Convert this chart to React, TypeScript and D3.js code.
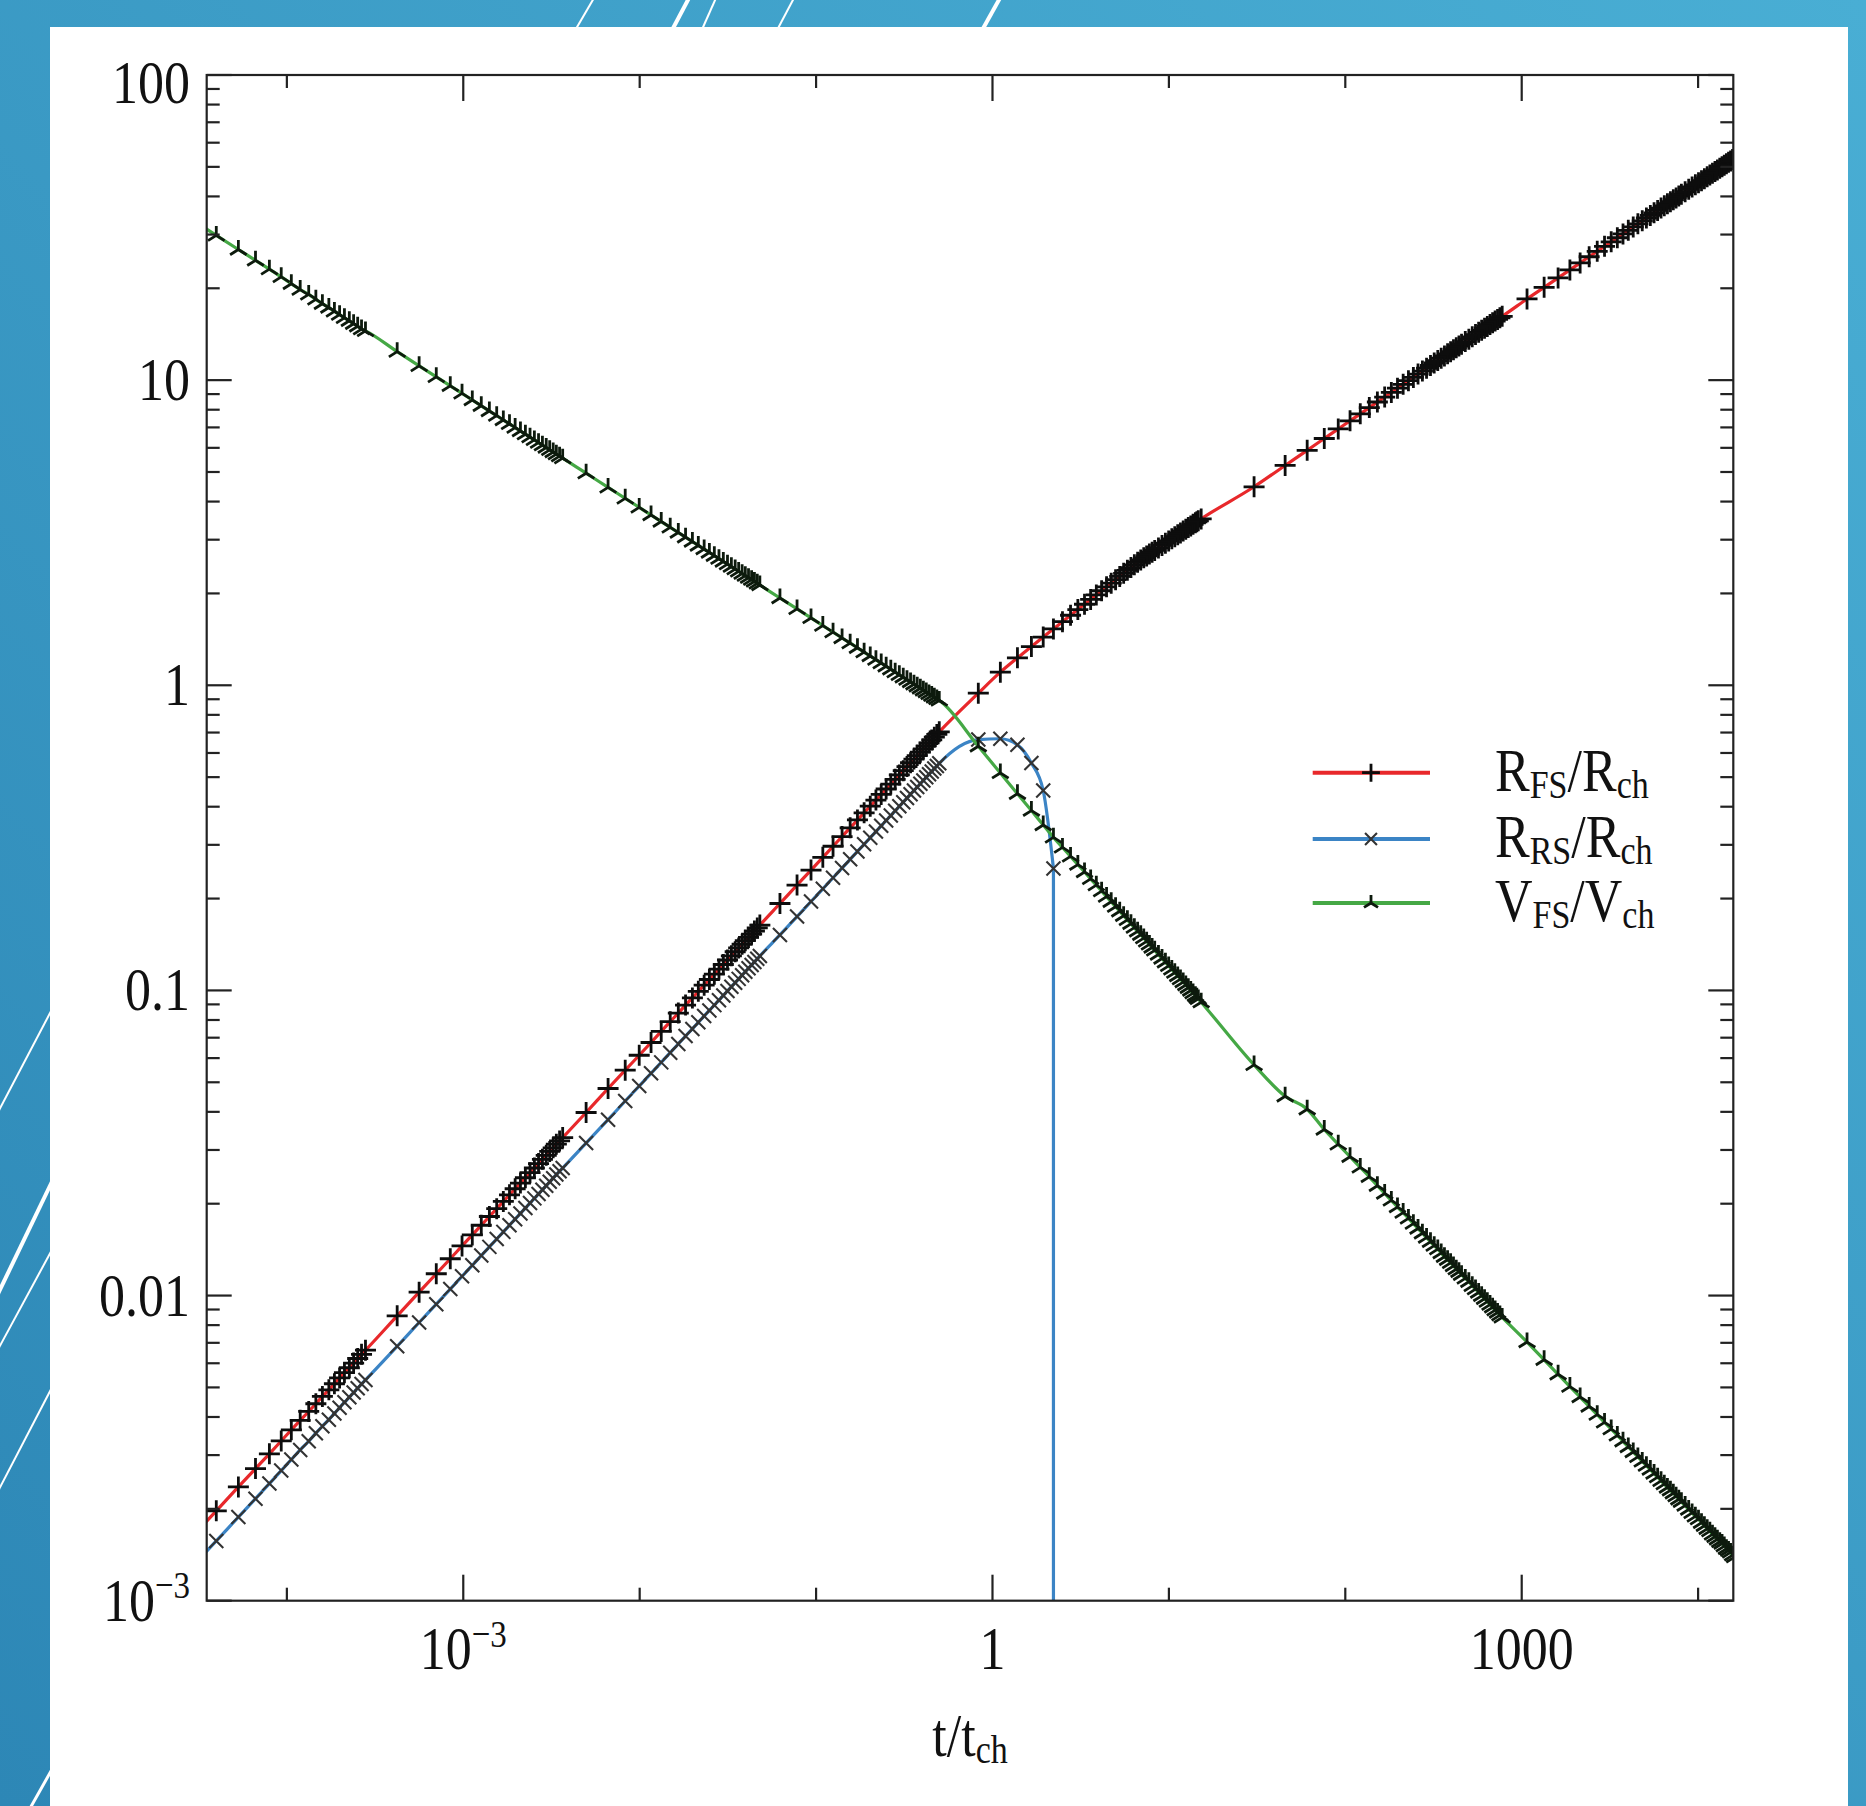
import React from "react";
import * as d3 from "d3";

// output times t/t_ch (shared by the three curves)
const timeSteps = [
  2.65e-5, 3.98e-5, 5.31e-5, 6.64e-5, 7.96e-5, 9.29e-5, 1.06e-4, 1.19e-4, 1.33e-4, 1.46e-4, 1.59e-4, 1.73e-4, 1.86e-4, 1.99e-4, 2.12e-4, 2.26e-4, 2.39e-4, 2.52e-4, 2.65e-4, 2.79e-4,
  4.22e-4, 5.62e-4, 7.03e-4, 8.44e-4, 9.84e-4, 1.125e-3, 1.265e-3, 1.406e-3, 1.547e-3, 1.687e-3, 1.828e-3, 1.968e-3, 2.109e-3, 2.25e-3, 2.39e-3, 2.53e-3, 2.671e-3, 2.81e-3, 2.953e-3, 3.09e-3, 3.234e-3, 3.37e-3, 3.515e-3, 3.66e-3,
  4.97e-3, 6.62e-3, 8.28e-3, 9.94e-3, 0.0116, 0.01325, 0.0149, 0.01656, 0.0182, 0.0199, 0.0215, 0.0232, 0.02484, 0.0265, 0.02815, 0.0298, 0.03146, 0.0331, 0.03478, 0.0364, 0.03809, 0.0397, 0.0414, 0.0431, 0.04471, 0.0464, 0.048,
  0.0624, 0.078, 0.0936, 0.1092, 0.1248, 0.1404, 0.156, 0.1716, 0.1872, 0.2028, 0.2184, 0.234, 0.2496, 0.2652, 0.2808, 0.2964, 0.312, 0.3276, 0.3432, 0.3588, 0.3744, 0.39, 0.4056, 0.4212, 0.4368, 0.4524, 0.468, 0.4836, 0.4992,
  0.831, 1.108, 1.385, 1.662, 1.939, 2.216, 2.493, 2.77, 3.047, 3.324, 3.601, 3.878, 4.155, 4.432, 4.709, 4.986, 5.263, 5.54, 5.817, 6.094, 6.371, 6.648, 6.925, 7.202, 7.479, 7.756, 8.033, 8.31,
  8.726, 9.141, 9.557, 9.972, 10.39, 10.8, 11.22, 11.63, 12.05, 12.47, 12.88, 13.3, 13.71, 14.13, 14.4, 14.68, 15.24,
  30.4, 45.6, 60.8, 76, 91.2, 106.4, 121.6, 136.8, 152, 167.2, 182.4, 197.6, 212.8, 228, 243.2, 258.4, 273.6, 288.8, 304, 319.2, 334.4, 349.6, 364.8, 380, 395.2, 410.4, 425.6, 440.8, 456,
  478.8, 501.6, 524.4, 547.2, 570, 592.8, 615.6, 638.4, 661.2, 684, 706.8, 729.6, 752.4, 775.2,
  1072, 1340, 1608, 1876, 2144, 2412, 2680, 2948, 3216, 3484, 3752, 4020, 4288, 4556, 4824, 5092, 5360, 5628, 5896, 6164, 6432, 6700, 6968, 7236, 7504, 7772, 8040,
  8442, 8844, 9246, 9648, 10050, 10452, 10854, 11256, 11658, 12060, 12462, 12864, 13266, 13668, 14070, 14472, 14874, 15276, 15678, 16080,
];

// forward shock radius R_FS/R_ch
const rFs = [
  0.00153, 0.00197, 0.00236, 0.00271, 0.00303, 0.00334, 0.00363, 0.0039, 0.00417, 0.00442, 0.00467, 0.00491, 0.00514, 0.00537, 0.00559, 0.0058, 0.00601, 0.00622, 0.00642, 0.00662,
  0.00858, 0.01026, 0.01179, 0.0132, 0.01454, 0.0158, 0.017, 0.01816, 0.01927, 0.02034, 0.02138, 0.02239, 0.02337, 0.02433, 0.02527, 0.02618, 0.02708, 0.02795, 0.02882, 0.02967, 0.0305, 0.03133, 0.03213, 0.03293,
  0.0398, 0.0477, 0.0548, 0.0613, 0.0675, 0.0734, 0.079, 0.0843, 0.0895, 0.0945, 0.0993, 0.104, 0.1086, 0.113, 0.1174, 0.1216, 0.1258, 0.1298, 0.1339, 0.1378, 0.1417, 0.1455, 0.1492, 0.1529, 0.1566, 0.1602, 0.1637,
  0.1927, 0.2215, 0.248, 0.273, 0.2968, 0.3194, 0.341, 0.3619, 0.382, 0.4016, 0.4205, 0.439, 0.4571, 0.4746, 0.4917, 0.5086, 0.5251, 0.5413, 0.5573, 0.5729, 0.5884, 0.6035, 0.6185, 0.6332, 0.6477, 0.662, 0.6762, 0.69, 0.7037,
  0.942, 1.104, 1.23, 1.339, 1.439, 1.53, 1.616, 1.696, 1.771, 1.843, 1.912, 1.978, 2.041, 2.102, 2.161, 2.218, 2.274, 2.327, 2.38, 2.431, 2.481, 2.53, 2.576, 2.616, 2.655, 2.693, 2.731, 2.767,
  2.82, 2.872, 2.923, 2.972, 3.02, 3.067, 3.112, 3.158, 3.201, 3.245, 3.286, 3.327, 3.368, 3.407, 3.433, 3.459, 3.51,
  4.472, 5.253, 5.888, 6.437, 6.918, 7.355, 7.756, 8.128, 8.478, 8.8, 9.113, 9.41, 9.689, 9.959, 10.21, 10.47, 10.71, 10.94, 11.17, 11.38, 11.59, 11.8, 12.0, 12.2, 12.4, 12.58, 12.76, 12.94, 13.12,
  13.38, 13.62, 13.87, 14.1, 14.34, 14.56, 14.78, 14.99, 15.21, 15.41, 15.62, 15.81, 16.01, 16.19,
  18.46, 20.14, 21.63, 22.98, 24.22, 25.37, 26.43, 27.44, 28.39, 29.29, 30.15, 30.98, 31.78, 32.54, 33.28, 33.99, 34.67, 35.35, 36.0, 36.64, 37.25, 37.86, 38.43, 39.02, 39.56, 40.12, 40.65,
  41.44, 42.19, 42.95, 43.65, 44.38, 45.05, 45.74, 46.37, 47.03, 47.64, 48.28, 48.87, 49.48, 50.05, 50.61, 51.18, 51.72, 52.28, 52.81, 53.33,
];

// reverse shock radius R_RS/R_ch (stops when it reaches the centre)
const rRs = [
  0.00122, 0.00157, 0.00188, 0.00216, 0.00242, 0.00267, 0.0029, 0.00312, 0.00333, 0.00354, 0.00373, 0.00392, 0.00411, 0.00429, 0.00447, 0.00464, 0.00481, 0.00497, 0.00513, 0.00529,
  0.00682, 0.00816, 0.00937, 0.0105, 0.01156, 0.01256, 0.01352, 0.01444, 0.01532, 0.01617, 0.017, 0.0178, 0.01858, 0.01935, 0.02009, 0.02082, 0.02153, 0.02223, 0.02291, 0.02359, 0.02425, 0.02491, 0.02555, 0.02618,
  0.0316, 0.0377, 0.0434, 0.0486, 0.0535, 0.0581, 0.0625, 0.0668, 0.0709, 0.0748, 0.0786, 0.0824, 0.086, 0.0895, 0.0929, 0.0963, 0.0996, 0.1028, 0.106, 0.1091, 0.1122, 0.1152, 0.1182, 0.1211, 0.124, 0.1269, 0.1297,
  0.152, 0.1746, 0.1956, 0.2153, 0.234, 0.2518, 0.2689, 0.2854, 0.3012, 0.3166, 0.3316, 0.3462, 0.3604, 0.3742, 0.3878, 0.4011, 0.414, 0.4268, 0.4395, 0.4518, 0.464, 0.4759, 0.4877, 0.4993, 0.5107, 0.522, 0.5332, 0.5441, 0.5549,
  0.664, 0.668, 0.638, 0.556, 0.452, 0.251,
];

// forward shock velocity V_FS/V_ch
const vFs = [
  34.7, 29.8, 26.8, 24.7, 23.1, 21.8, 20.7, 19.8, 19.1, 18.4, 17.8, 17.3, 16.8, 16.39, 16.0, 15.65, 15.3, 15.01, 14.7, 14.5,
  12.4, 11.14, 10.25, 9.58, 9.05, 8.61, 8.24, 7.92, 7.65, 7.4, 7.19, 6.99, 6.813, 6.65, 6.503, 6.37, 6.24, 6.12, 6.012, 5.91, 5.811, 5.72, 5.635, 5.55,
  4.955, 4.452, 4.098, 3.828, 3.615, 3.44, 3.293, 3.166, 3.056, 2.958, 2.872, 2.795, 2.723, 2.658, 2.599, 2.544, 2.494, 2.447, 2.403, 2.362, 2.322, 2.286, 2.252, 2.219, 2.189, 2.158, 2.131,
  1.932, 1.779, 1.662, 1.569, 1.493, 1.429, 1.374, 1.327, 1.284, 1.247, 1.213, 1.182, 1.154, 1.128, 1.104, 1.082, 1.062, 1.043, 1.025, 1.008, 0.9925, 0.9776, 0.9633, 0.9501, 0.9368, 0.9251, 0.9132, 0.9022, 0.8918,
  0.631, 0.516, 0.441, 0.3885, 0.3485, 0.3174, 0.2942, 0.2749, 0.2585, 0.2443, 0.232, 0.2213, 0.2115, 0.203, 0.1952, 0.1881, 0.1817, 0.1757, 0.1703, 0.1653, 0.1606, 0.1562, 0.1522, 0.1484, 0.1448, 0.1415, 0.1382, 0.1353,
  0.1311, 0.1272, 0.1237, 0.1203, 0.1172, 0.1143, 0.1115, 0.1089, 0.1065, 0.1042, 0.102, 0.0999, 0.098, 0.0961, 0.0949, 0.0938, 0.0915,
  0.057, 0.045, 0.0408, 0.035, 0.0313, 0.0285, 0.0263, 0.0245, 0.0229, 0.0216, 0.0205, 0.0195, 0.0187, 0.0179, 0.0172, 0.01658, 0.016, 0.01549, 0.015, 0.01457, 0.0142, 0.01378, 0.0134, 0.0131, 0.0128, 0.0125, 0.0122, 0.01197, 0.0117,
  0.01138, 0.0111, 0.01076, 0.0105, 0.01023, 0.00998, 0.00976, 0.00955, 0.00934, 0.00915, 0.00896, 0.0088, 0.00863, 0.00848,
  0.00704, 0.00616, 0.00552, 0.00503, 0.00465, 0.00433, 0.00407, 0.00384, 0.00365, 0.00348, 0.00333, 0.00319, 0.00307, 0.00296, 0.00286, 0.00277, 0.00269, 0.00261, 0.00254, 0.00247, 0.00241, 0.00235, 0.0023, 0.00225, 0.0022, 0.00215, 0.00211,
  0.00205, 0.00199, 0.00194, 0.00189, 0.00185, 0.0018, 0.00176, 0.00172, 0.00169, 0.00165, 0.00162, 0.00159, 0.00156, 0.00154, 0.00151, 0.00148, 0.00146, 0.00144, 0.00141, 0.00139,
];

const xMajorTicks = [1e-3, 1, 1000];
const xMinorTicks = [1e-4, 1e-2, 0.1, 10, 100, 1e4];
const xTickLabels = [["10", "−3"], ["1", ""], ["1000", ""]];
const yTickLabels = [["10", "−3"], ["0.01", ""], ["0.1", ""], ["1", ""], ["10", ""], ["100", ""]];

const W = 1866;
const H = 1806;
const left = 206.7, right = 1733.3, top = 75, bottom = 1600.7;
const FONT = "'Liberation Serif', 'Times New Roman', serif";
const STRETCH = 1.18;

const x = d3.scaleLog().domain([3.512e-5, 15830]).range([left, right]);
const y = d3.scaleLog().domain([1e-3, 100]).range([bottom, top]);

const markers: Record<string, (r: number) => string> = {
  plus: (r) => `M${-r},0H${r}M0,${-r}V${r}`,
  times: (r) => `M${-r},${-r}L${r},${r}M${-r},${r}L${r},${-r}`,
  tri: (r) => `M0,0V${-r}M0,0L${-r * 0.87},${r * 0.55}M0,0L${r * 0.87},${r * 0.55}`,
};

const series = [
  { key: "rfs", values: rFs, color: "#e8282b", marker: "plus", size: 10.5, mStroke: "#0d0d0d", mWidth: 2.8, label: ["R", "FS", "/R", "ch"] },
  { key: "rrs", values: rRs, color: "#3b84c5", marker: "times", size: 7, mStroke: "#333", mWidth: 2.1, label: ["R", "RS", "/R", "ch"] },
  { key: "vfs", values: vFs, color: "#45a845", marker: "tri", size: 9.5, mStroke: "#0d1a0d", mWidth: 2.8, label: ["V", "FS", "/V", "ch"] },
];

const lineGen = d3
  .line<[number, number]>()
  .x((d) => x(d[0]))
  .y((d) => y(d[1]))
  .curve(d3.curveMonotoneX);

function Label({ tx, ty, anchor, parts, size = 52 }: { tx: number; ty: number; anchor: string; parts: string[]; size?: number }) {
  return (
    <text transform={`translate(${tx},${ty}) scale(1,${STRETCH})`} textAnchor={anchor} fontFamily={FONT} fontSize={size} fill="#111">
      <tspan>{parts[0]}</tspan>
      {parts[1] ? <tspan dy={-19} fontSize={33}>{parts[1]}</tspan> : null}
    </text>
  );
}

export default function App() {
  const pts = series.map((s) =>
    s.values
      .map((v, i) => [timeSteps[i], v] as [number, number])
      .filter((d) => d[0] !== undefined)
  );
  const rsLast = pts[1][pts[1].length - 1];

  const yTicks = y.ticks();
  const yMajor = yTicks.filter((t) => Math.abs(Math.log10(t) - Math.round(Math.log10(t))) < 1e-6);
  const yMinor = yTicks.filter((t) => !yMajor.includes(t));

  return (
    <svg width={W} height={H} style={{ position: "absolute", left: 0, top: 0 }}>
      <defs>
        <linearGradient id="bg" x1="1" y1="0" x2="0" y2="1">
          <stop offset="0%" stopColor="#49aed4" />
          <stop offset="100%" stopColor="#2d87b6" />
        </linearGradient>
        <clipPath id="plotClip">
          <rect x={left} y={top} width={right - left} height={bottom - top} />
        </clipPath>
      </defs>

      {/* slide background */}
      <rect x={0} y={0} width={W} height={H} fill="url(#bg)" />
      <g stroke="#fff" fill="none">
        <line x1={594} y1={-2} x2={573} y2={34} strokeWidth={2} />
        <line x1={689} y1={-2} x2={670} y2={34} strokeWidth={4} />
        <line x1={716} y1={-2} x2={700} y2={34} strokeWidth={2} />
        <line x1={794} y1={-2} x2={775} y2={34} strokeWidth={2} />
        <line x1={1000} y1={-2} x2={980} y2={34} strokeWidth={4} />
        <line x1={-5} y1={1118} x2={60} y2={994} strokeWidth={2} />
        <line x1={-5} y1={1300} x2={60} y2={1165} strokeWidth={4} />
        <line x1={-5} y1={1355} x2={60} y2={1235} strokeWidth={2} />
        <line x1={-5} y1={1497} x2={60} y2={1372} strokeWidth={2} />
        <line x1={28} y1={1812} x2={60} y2={1755} strokeWidth={3} />
      </g>
      <rect x={50} y={27} width={1798} height={H - 27} fill="#fff" />

      {/* data */}
      <g clipPath="url(#plotClip)">
        {series.map((s, si) => (
          <g key={s.key}>
            <path
              d={(lineGen(pts[si]) || "") + (si === 1 ? `L${x(rsLast[0])},${bottom + 5}` : "")}
              fill="none"
              stroke={s.color}
              strokeWidth={3.2}
            />
            <g stroke={s.mStroke} strokeWidth={s.mWidth} fill="none">
              {pts[si].map((d, i) => (
                <path key={i} transform={`translate(${x(d[0])},${y(d[1])})`} d={markers[s.marker](s.size)} />
              ))}
            </g>
          </g>
        ))}
      </g>

      {/* frame and ticks */}
      <g stroke="#222" strokeWidth={2.2} fill="none">
        <rect x={left} y={top} width={right - left} height={bottom - top} />
        {xMajorTicks.map((t) => (
          <g key={"xM" + t}>
            <line x1={x(t)} x2={x(t)} y1={bottom} y2={bottom - 26} />
            <line x1={x(t)} x2={x(t)} y1={top} y2={top + 26} />
          </g>
        ))}
        {xMinorTicks.map((t) => (
          <g key={"xm" + t}>
            <line x1={x(t)} x2={x(t)} y1={bottom} y2={bottom - 13} />
            <line x1={x(t)} x2={x(t)} y1={top} y2={top + 13} />
          </g>
        ))}
        {yMajor.map((t) => (
          <g key={"yM" + t}>
            <line x1={left} x2={left + 25} y1={y(t)} y2={y(t)} />
            <line x1={right} x2={right - 25} y1={y(t)} y2={y(t)} />
          </g>
        ))}
        {yMinor.map((t) => (
          <g key={"ym" + t}>
            <line x1={left} x2={left + 13} y1={y(t)} y2={y(t)} />
            <line x1={right} x2={right - 13} y1={y(t)} y2={y(t)} />
          </g>
        ))}
      </g>

      {/* tick labels */}
      {xMajorTicks.map((t, i) => (
        <Label key={"xl" + t} tx={x(t)} ty={1669} anchor="middle" parts={xTickLabels[i]} />
      ))}
      {yMajor.map((t, i) => (
        <Label key={"yl" + t} tx={190} ty={Math.max(y(t) + 20, top + 28)} anchor="end" parts={yTickLabels[i]} />
      ))}

      {/* axis title */}
      <text transform={`translate(970,1756) scale(1,${STRETCH})`} textAnchor="middle" fontFamily={FONT} fontSize={52} fill="#111">
        <tspan>t/t</tspan>
        <tspan dy={6} fontSize={34}>ch</tspan>
      </text>

      {/* legend */}
      {series.map((s, i) => {
        const ly = [772.7, 839, 903][i];
        return (
          <g key={"lg" + s.key}>
            <line x1={1312.7} x2={1430} y1={ly} y2={ly} stroke={s.color} strokeWidth={4} />
            <path transform={`translate(1371,${ly})`} d={markers[s.marker](s.size * 0.85)} stroke={s.mStroke} strokeWidth={s.mWidth} fill="none" />
            <text transform={`translate(1495,${ly + 18}) scale(1,${STRETCH})`} fontFamily={FONT} fontSize={52} fill="#111">
              <tspan>{s.label[0]}</tspan>
              <tspan dy={6} fontSize={34}>{s.label[1]}</tspan>
              <tspan dy={-6}>{s.label[2]}</tspan>
              <tspan dy={6} fontSize={34}>{s.label[3]}</tspan>
            </text>
          </g>
        );
      })}
    </svg>
  );
}
